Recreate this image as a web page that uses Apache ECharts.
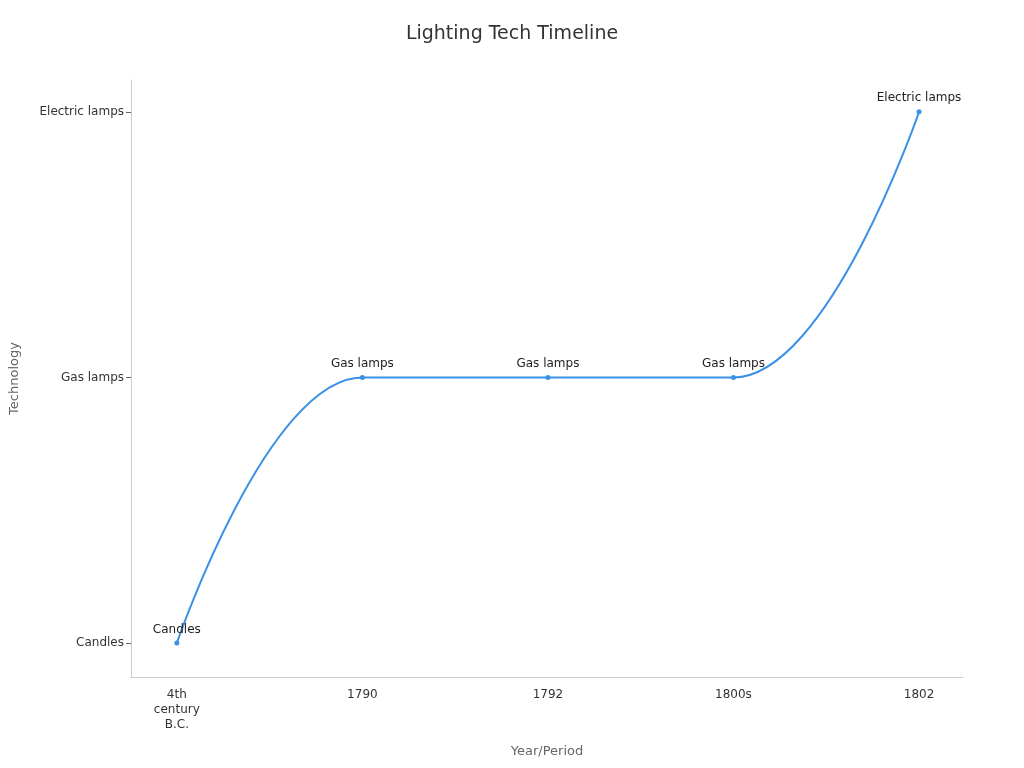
<!DOCTYPE html>
<html><head><meta charset="utf-8">
<script src="https://cdn.jsdelivr.net/npm/echarts@6/dist/echarts.min.js"></script>
<style>html,body{margin:0;padding:0;}#c{width:1024px;height:768px;}</style>
</head><body><div id="c"></div>
<script>
const periods = ["4th\ncentury\nB.C.", "1790", "1792", "1800s", "1802"];
const techLevels = ["Candles", "Gas lamps", "Electric lamps"];
const techValues = ["Candles", "Gas lamps", "Gas lamps", "Gas lamps", "Electric lamps"];

const data = techValues.map((t, i) => [i, techLevels.indexOf(t), t]);
const chart = echarts.init(document.getElementById('c'));
chart.setOption({
  title: {text: 'Lighting Tech Timeline', left: 'center', top: 20,
    textStyle: {fontSize: 19, fontWeight: 'normal', color: '#333', fontFamily: 'DejaVu Sans'}},
  grid: {left: 129, right: 61, top: 80, bottom: 91},
  xAxis: {type: 'value', min: -0.247, max: 4.237, name: 'Year/Period', nameLocation: 'middle', nameGap: 68,
    nameTextStyle: {color: '#666', fontSize: 13, fontFamily: 'DejaVu Sans'},
    splitLine: {show: false},
    axisLine: {show: true, onZero: false, lineStyle: {color: '#ccc'}},
    axisTick: {show: false},
    axisLabel: {customValues: periods.map((p, i) => i), formatter: v => periods[Math.round(v)],
      color: '#333', fontSize: 12, fontFamily: 'DejaVu Sans', margin: 10, lineHeight: 15}},
  yAxis: {type: 'value', min: -0.128, max: 2.12, name: 'Technology', nameLocation: 'middle', nameGap: 110,
    nameTextStyle: {color: '#666', fontSize: 13, fontFamily: 'DejaVu Sans'},
    splitLine: {show: false},
    axisLine: {show: true, onZero: false, lineStyle: {color: '#ccc'}},
    axisTick: {show: true, length: 5, customValues: [0, 1, 2], lineStyle: {color: '#666'}},
    axisLabel: {customValues: [0, 1, 2], formatter: v => techLevels[Math.round(v)],
      color: '#333', fontSize: 12, fontFamily: 'DejaVu Sans', margin: 7}},
  series: [{type: 'line', smooth: 0.4, data: data,
    symbol: 'circle', symbolSize: 5,
    itemStyle: {color: '#3b91e5'}, lineStyle: {width: 2, color: '#3b91e5'},
    label: {show: true, position: 'top', formatter: p => p.value[2], color: '#222', fontSize: 12, fontFamily: 'DejaVu Sans'}}]
});
</script></body></html>
